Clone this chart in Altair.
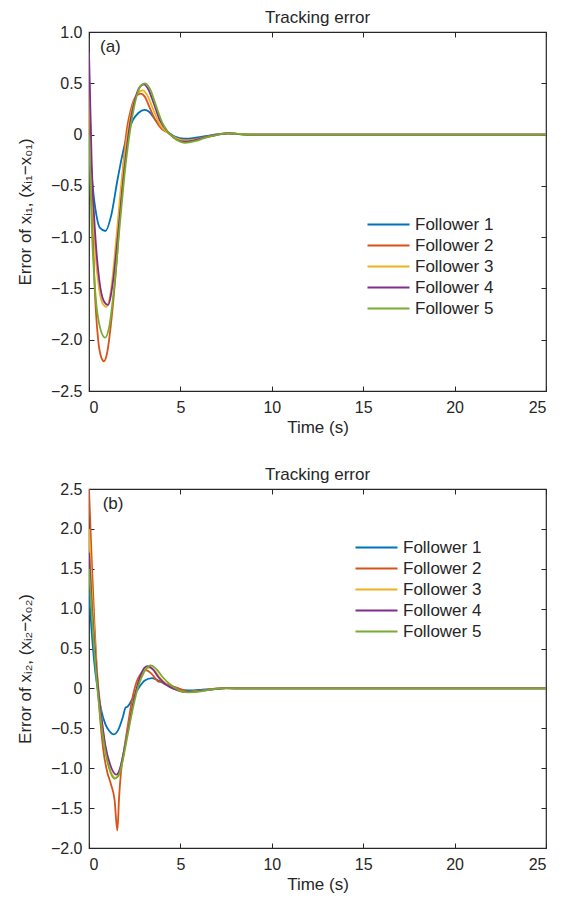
import altair as alt
import pandas as pd

names = ["Follower 1", "Follower 2", "Follower 3", "Follower 4", "Follower 5"]
colors = ["#0072BD", "#D95319", "#EDB120", "#7E2F8E", "#77AC30"]
x_ticks = [0, 5, 10, 15, 20, 25]
ya_ticks = [-2.5, -2.0, -1.5, -1.0, -0.5, 0, 0.5, 1.0]
yb_ticks = [-2.0, -1.5, -1.0, -0.5, 0, 0.5, 1.0, 1.5, 2.0, 2.5]

# panel tags: text, time position, value position
tag_a = ["(a)", 0.6, 0.85]
tag_b = ["(b)", 0.75, 2.31]

# ---- panel (a) ----
a1_t = [0, 0.2, 0.4, 0.6, 0.9, 1.2, 1.55, 1.8, 2.1, 2.4, 2.7, 3.05, 3.3, 3.6, 4.0, 4.3, 4.7, 5.2, 5.7, 6.2, 6.7, 7.1, 7.6, 8.2, 9, 25]
a1_v = [0.0, -0.5, -0.78, -0.91, -0.94, -0.8, -0.45, -0.22, 0.0, 0.14, 0.21, 0.24, 0.22, 0.15, 0.06, 0.025, -0.02, -0.04, -0.035, -0.02, -0.005, 0.005, 0.012, 0.005, 0, 0]

a2_t = [0, 0.15, 0.3, 0.5, 0.65, 0.82, 1.0, 1.2, 1.55, 1.8, 2.0, 2.3, 2.6, 2.83, 3.05, 3.3, 3.6, 4.0, 4.3, 4.7, 5.2, 5.7, 6.2, 6.7, 7.1, 7.6, 8.2, 9, 25]
a2_v = [0.6, -0.6, -1.45, -2.0, -2.16, -2.21, -2.12, -1.85, -1.15, -0.5, -0.05, 0.25, 0.38, 0.40, 0.37, 0.27, 0.15, 0.05, 0.02, -0.03, -0.055, -0.05, -0.03, -0.01, 0.004, 0.012, 0.005, 0, 0]

a3_t = [0, 0.15, 0.35, 0.55, 0.75, 0.95, 1.2, 1.5, 1.8, 2.1, 2.4, 2.7, 2.95, 3.2, 3.5, 3.9, 4.3, 4.8, 5.3, 5.8, 6.3, 6.8, 7.2, 7.6, 8.2, 9, 25]
a3_v = [0.6, -0.45, -1.15, -1.5, -1.65, -1.68, -1.52, -1.0, -0.42, 0.0, 0.28, 0.41, 0.43, 0.38, 0.25, 0.09, 0.02, -0.04, -0.06, -0.05, -0.03, -0.01, 0.004, 0.012, 0.005, 0, 0]

a4_t = [0, 0.15, 0.35, 0.55, 0.8, 1.04, 1.3, 1.6, 1.9, 2.2, 2.5, 2.8, 3.0, 3.25, 3.55, 3.9, 4.3, 4.8, 5.3, 5.8, 6.3, 6.8, 7.2, 7.6, 8.2, 9, 25]
a4_v = [0.8, -0.3, -1.0, -1.4, -1.62, -1.66, -1.45, -0.95, -0.4, 0.05, 0.33, 0.47, 0.49, 0.44, 0.3, 0.13, 0.03, -0.05, -0.07, -0.055, -0.03, -0.01, 0.004, 0.013, 0.005, 0, 0]

a5_t = [0, 0.15, 0.35, 0.6, 0.88, 1.1, 1.4, 1.7, 2.0, 2.3, 2.6, 2.85, 3.07, 3.35, 3.65, 4.0, 4.3, 4.8, 5.25, 5.8, 6.3, 6.8, 7.2, 7.6, 8.2, 9, 25]
a5_v = [0.0, -0.9, -1.55, -1.88, -1.98, -1.88, -1.45, -0.85, -0.3, 0.1, 0.37, 0.48, 0.50, 0.44, 0.29, 0.12, 0.03, -0.05, -0.08, -0.065, -0.035, -0.012, 0.004, 0.014, 0.006, 0, 0]

# ---- panel (b) ----
b1_t = [0, 0.15, 0.3, 0.5, 0.7, 0.9, 1.1, 1.36, 1.6, 1.85, 2.0, 2.1, 2.4, 2.7, 3.05, 3.45, 3.8, 4.2, 4.7, 5.2, 5.7, 6.2, 6.8, 7.5, 8.5, 25]
b1_v = [1.2, 0.7, 0.3, -0.05, -0.3, -0.45, -0.53, -0.575, -0.52, -0.36, -0.24, -0.23, -0.12, 0.0, 0.1, 0.13, 0.1, 0.05, 0.01, -0.02, -0.025, -0.015, -0.005, 0.004, 0, 0]

b2_t = [0, 0.15, 0.3, 0.45, 0.6, 0.8, 1.0, 1.2, 1.4, 1.55, 1.65, 1.75, 1.9, 2.1, 2.35, 2.6, 2.85, 3.1, 3.4, 3.65, 3.8, 4.0, 4.3, 4.9, 5.45, 6.0, 6.5, 7.0, 8.0, 25]
b2_v = [2.5, 1.6, 0.8, 0.15, -0.35, -0.8, -1.05, -1.2, -1.4, -1.78, -1.35, -1.05, -0.8, -0.5, -0.15, 0.08, 0.19, 0.23, 0.19, 0.12, 0.085, 0.08, 0.05, 0.0, -0.04, -0.03, -0.015, 0.0, 0.0, 0]

b3_t = [0, 0.15, 0.3, 0.5, 0.7, 0.9, 1.1, 1.45, 1.65, 1.85, 2.15, 2.45, 2.75, 3.0, 3.3, 3.6, 3.9, 4.3, 4.8, 5.4, 5.9, 6.4, 7.0, 7.5, 8.5, 25]
b3_v = [2.0, 1.25, 0.65, 0.05, -0.4, -0.75, -0.98, -1.12, -1.05, -0.85, -0.5, -0.15, 0.1, 0.22, 0.26, 0.22, 0.13, 0.04, -0.02, -0.045, -0.035, -0.02, -0.005, 0.004, 0, 0]

b4_t = [0, 0.15, 0.3, 0.5, 0.7, 0.9, 1.15, 1.5, 1.7, 1.9, 2.2, 2.5, 2.8, 3.0, 3.18, 3.5, 3.8, 4.2, 4.7, 5.3, 5.8, 6.3, 6.9, 7.5, 8.5, 25]
b4_v = [1.7, 1.05, 0.55, 0.0, -0.4, -0.72, -0.95, -1.08, -1.0, -0.8, -0.45, -0.1, 0.15, 0.25, 0.28, 0.24, 0.14, 0.05, -0.01, -0.045, -0.04, -0.025, -0.008, 0.004, 0, 0]

b5_t = [0, 0.15, 0.3, 0.5, 0.7, 0.9, 1.1, 1.4, 1.6, 1.8, 2.1, 2.4, 2.7, 3.0, 3.36, 3.7, 4.0, 4.5, 5.0, 5.45, 6.0, 6.5, 7.0, 7.5, 8.5, 25]
b5_v = [1.5, 0.95, 0.45, -0.1, -0.5, -0.8, -1.0, -1.13, -1.1, -0.95, -0.6, -0.25, 0.03, 0.2, 0.29, 0.24, 0.15, 0.04, -0.03, -0.05, -0.04, -0.02, -0.005, 0.004, 0, 0]


def build(series):
    rows = []
    for name, ts, vs in series:
        for t, v in zip(ts, vs):
            rows.append({"t": t, "v": v, "series": name})
    return pd.DataFrame(rows)


df_a = build([(names[0], a1_t, a1_v), (names[1], a2_t, a2_v), (names[2], a3_t, a3_v),
              (names[3], a4_t, a4_v), (names[4], a5_t, a5_v)])
df_b = build([(names[0], b1_t, b1_v), (names[1], b2_t, b2_v), (names[2], b3_t, b3_v),
              (names[3], b4_t, b4_v), (names[4], b5_t, b5_v)])

W, H = 457, 359
FONT = "Liberation Sans"
TXT = "#262626"
ylab = "datum.value == 0 ? '0' : format(datum.value, '.1f')"

lab_opts = dict(labelFont=FONT, labelFontSize=16, labelColor=TXT, titleFont=FONT, titleFontSize=17,
                titleColor=TXT, titleFontWeight="normal")


def panel(df, ydom, yticks, ytitle, lx, ly, tag):
    xs = alt.Scale(domain=[0, 25], nice=False, zero=False)
    ys = alt.Scale(domain=ydom, nice=False, zero=False)
    base = alt.Chart(df)
    lines = base.mark_line(strokeWidth=1.8, interpolate="monotone", clip=True).encode(
        x=alt.X("t:Q", scale=xs, axis=alt.Axis(values=x_ticks, title="Time (s)", tickSize=0,
                                             labelPadding=8, titlePadding=4, domain=False, grid=False,
                                             **lab_opts)),
        y=alt.Y("v:Q", scale=ys, axis=alt.Axis(values=yticks, labelExpr=ylab, title=ytitle, tickSize=0,
                                             labelPadding=7, titlePadding=16, domain=False, grid=False,
                                             **lab_opts)),
        color=alt.Color("series:N", scale=alt.Scale(domain=names, range=colors),
                        legend=alt.Legend(title=None, orient="none", legendX=lx, legendY=ly,
                                          symbolType="M-5,0H1", symbolSize=196, symbolStrokeWidth=2,
                                          labelFontSize=17, labelFont=FONT, labelColor=TXT,
                                          labelOffset=4, rowPadding=3, padding=0)),
        order=alt.Order("t:Q"),
    )
    tick_opts = dict(labels=False, title=None, tickSize=5, domain=False, grid=False,
                     tickColor=TXT, tickWidth=1, minExtent=0, maxExtent=0)
    inner1 = base.mark_point(opacity=0).encode(
        x=alt.X("t:Q", scale=xs, axis=alt.Axis(orient="top", offset=-H, values=x_ticks, **tick_opts)),
        y=alt.Y("v:Q", scale=ys, axis=alt.Axis(orient="right", offset=-W, values=yticks, **tick_opts)),
    )
    inner2 = base.mark_point(opacity=0).encode(
        x=alt.X("t:Q", scale=xs, axis=alt.Axis(orient="bottom", offset=-H, values=x_ticks, **tick_opts)),
        y=alt.Y("v:Q", scale=ys, axis=alt.Axis(orient="left", offset=-W, values=yticks, **tick_opts)),
    )
    tag_df = pd.DataFrame({"label": [tag[0]], "t": [tag[1]], "v": [tag[2]]})
    tag_layer = alt.Chart(tag_df).mark_text(align="left", baseline="middle", fontSize=17, font=FONT,
                                            color=TXT).encode(
        x=alt.X("t:Q", scale=xs, axis=None),
        y=alt.Y("v:Q", scale=ys, axis=None),
        text="label:N",
    )
    return alt.layer(lines, inner1, inner2, tag_layer).resolve_scale(
        x="independent", y="independent").properties(
        width=W, height=H,
        title=alt.TitleParams("Tracking error", fontSize=17, font=FONT, color=TXT, fontWeight="normal",
                              anchor="middle", offset=-3, frame="group"),
    )


top = panel(df_a, [-2.5, 1.0], ya_ticks, "Error of  xᵢ₁, (xᵢ₁−x₀₁)", 305, 184, tag_a)
bot = panel(df_b, [-2.0, 2.5], yb_ticks, "Error of  xᵢ₂, (xᵢ₂−x₀₂)", 293, 50, tag_b)

chart = alt.vconcat(top, bot, spacing=29, background="white",
                    padding={"top": 0, "left": 7, "right": 5, "bottom": 0}).resolve_scale(
    color="independent").resolve_legend(color="independent").configure_view(
    stroke=TXT, strokeWidth=1.2)

chart.save("out.html", embed_options={"renderer": "svg", "actions": False})
